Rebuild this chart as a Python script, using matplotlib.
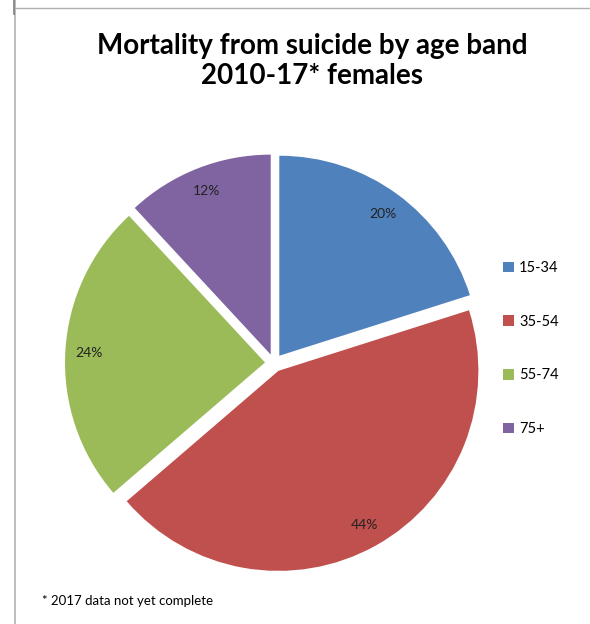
import matplotlib
matplotlib.use("Agg")
import matplotlib.pyplot as plt
from matplotlib.lines import Line2D

categories = ["15-34", "35-54", "55-74", "75+"]
shares = [20.1, 43.6, 24.4, 11.9]
colors = ["#4F81BD", "#C0504D", "#9BBB59", "#8064A2"]
title = "Mortality from suicide by age band\n2010-17* females"
footnote = "* 2017 data not yet complete"

W, H = 590, 624
fig = plt.figure(figsize=(W / 100, H / 100), dpi=100)
plt.rcParams['font.family'] = ['Lato', 'DejaVu Sans']

# pie axes: centre px from top-left, radius px
R = 200
cx, cy = 274, 363
half = 1.1
size_px = 2 * half * R
ax = fig.add_axes([(cx - size_px / 2) / W, (H - cy - size_px / 2) / H, size_px / W, size_px / H])
wedges, texts, autotexts = ax.pie(
    shares, colors=colors, startangle=90, counterclock=False,
    explode=[0.045] * 4, autopct='%.0f%%', pctdistance=0.88,
    textprops=dict(fontsize=10, color='#222222'),
    wedgeprops=dict(linewidth=0))
ax.set_xlim(-half, half)
ax.set_ylim(-half, half)
ax.set_aspect('equal')
ax.axis('off')

fig.text(0.529, 1 - 61 / H, title, ha='center', va='center', fontsize=20,
         fontweight='bold', linespacing=1.2, color='black')

fig.legend(wedges, categories, loc='upper left', bbox_to_anchor=(503 / W, 1 - 261 / H),
           frameon=False, fontsize=10.5, handlelength=0.75, handleheight=0.75,
           handletextpad=0.35, labelspacing=2.72, borderaxespad=0, borderpad=0)

fig.text(42 / W, 1 - 601 / H, footnote, ha='left', va='center', fontsize=9.5, color='black')

# frame lines
fig.add_artist(Line2D([15 / W, 15 / W], [0, 1], color='#B0B0B0', lw=1.2, transform=fig.transFigure))
fig.add_artist(Line2D([15 / W, 1], [1 - 7.5 / H, 1 - 7.5 / H], color='#B0B0B0', lw=1.0, transform=fig.transFigure))
fig.add_artist(Line2D([14 / W, 14 / W], [1, 1 - 14 / H], color='#808080', lw=1.2, transform=fig.transFigure))

fig.savefig("out.png", dpi=100, facecolor='white')
